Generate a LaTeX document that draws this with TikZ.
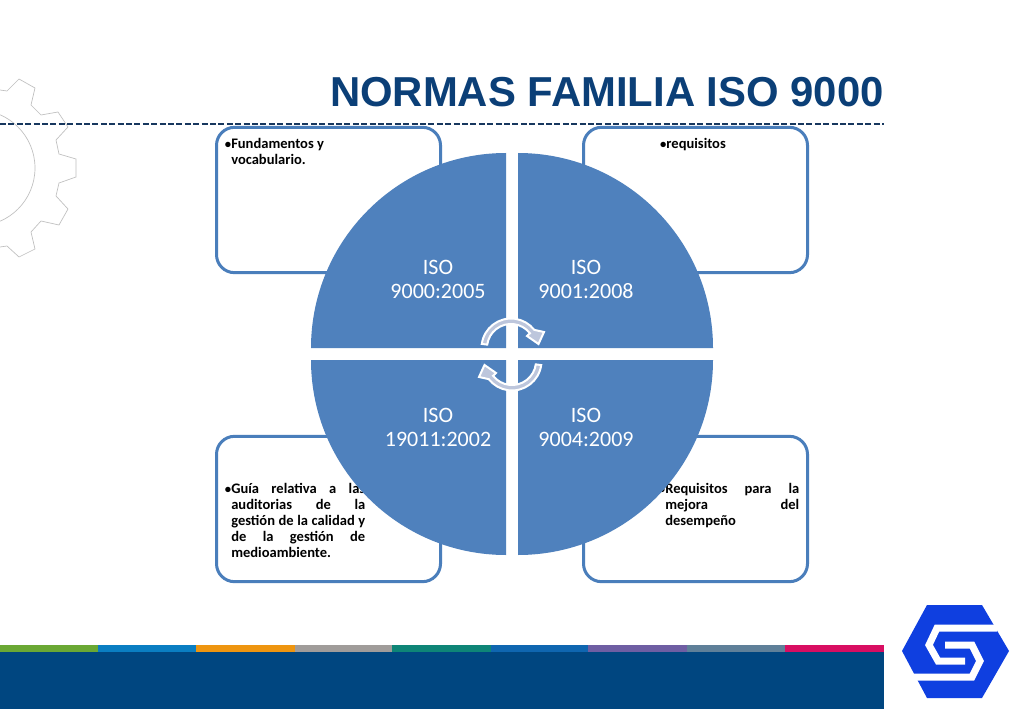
\documentclass[tikz,border=0pt]{standalone}
\usepackage{fontspec}
\setmainfont{Carlito}
\newfontfamily\titlefont{Liberation Sans}
\usepackage{tikz}
\definecolor{quadblue}{HTML}{4F81BD}
\definecolor{boxblue}{HTML}{4A7EBB}
\definecolor{navy}{HTML}{004680}
\definecolor{dashnavy}{HTML}{17375E}
\definecolor{titleblue}{HTML}{0B3F77}
\definecolor{logoblue}{HTML}{0F3FE0}
\definecolor{arrowgrey}{HTML}{BDC6DC}
\tikzset{
    box/.style={draw=boxblue,line width=2.25pt,rounded corners=13.5pt,fill=white,
        minimum width=168pt,minimum height=109pt,inner sep=0pt},
    boxtext/.style={text width=100.5pt,align=justify,font=\fontsize{10.9}{12}\selectfont\bfseries,
        inner sep=0pt,anchor=north west},
    quad/.style={fill=quadblue},
    quadtext/.style={text=white,align=center,font=\fontsize{16.5}{18}\selectfont},
    cyclearrow/.style={fill=arrowgrey,draw=white,line width=1.5pt,line join=miter},
    logocut/.style={draw=white,line width=5.25pt,line join=miter},
}
\newcommand{\bul}{\llap{{\fontsize{9.5}{8}\selectfont\textbullet}}}
\begin{document}
\begin{tikzpicture}[x=0.75pt,y=-0.75pt]
    \clip (0,0) rectangle (1024,709);
    \fill[white] (0,0) rectangle (1024,709);
    % gear
    \draw[black!25,line width=0.5pt] (0,90) -- (7,91) -- (19,79) -- (35,88) -- (31,105) -- (41,115)
        -- (58,112) -- (68,127) -- (56,140) -- (59,154) -- (76,159) -- (76,177) -- (59,183)
        -- (56,196) -- (68,209) -- (59,225) -- (41,221) -- (31,232) -- (35,249) -- (19,257)
        -- (7,246) -- (0,247);
    \draw[black!25,line width=0.5pt] (-23,168) circle (58);
    % title
    \node[anchor=east,inner sep=0pt,text=titleblue,font=\titlefont\fontsize{31.4}{36}\selectfont\bfseries]
        (title) at (884,92) {NORMAS FAMILIA ISO 9000};
    \draw[dashnavy,line width=1pt,dash pattern=on 4.5pt off 1.8pt] (0,124) -- (884,124);
    % boxes
    \node[box] (fund) at (328.5,200) {};
    \node[box] (req) at (695.5,200) {};
    \node[box] (guia) at (328.5,509) {};
    \node[box] (mej) at (695.5,509) {};
    \node[boxtext] (fundtext) at (231,138) {\bul Fundamentos y\\vocabulario.};
    \node[inner sep=0pt,font=\fontsize{10.9}{12}\selectfont\bfseries] (reqtext) at (693,145)
        {{\fontsize{9.5}{8}\selectfont\textbullet}requisitos};
    \node[boxtext] (guiatext) at (231,483) {\bul Guía relativa a las\linebreak auditorias de la\linebreak gestión de la calidad y\linebreak de la gestión de\linebreak medioambiente.};
    \node[boxtext] (mejtext) at (665,483) {\bul Requisitos para la\linebreak mejora del\linebreak desempeño};
    % circle
    \fill[quad] (506,348) -- (311,348) arc[start angle=180,end angle=270,radius=195] -- cycle;
    \fill[quad] (518,348) -- (518,153) arc[start angle=270,end angle=360,radius=195] -- cycle;
    \fill[quad] (506,360) -- (506,555) arc[start angle=90,end angle=180,radius=195] -- cycle;
    \fill[quad] (518,360) -- (713,360) arc[start angle=0,end angle=90,radius=195] -- cycle;
    \node[quadtext] (q1) at (438,279) {ISO\\9000:2005};
    \node[quadtext] (q2) at (586,279) {ISO\\9001:2008};
    \node[quadtext] (q3) at (438,427) {ISO\\19011:2002};
    \node[quadtext] (q4) at (586,427) {ISO\\9004:2009};
    % cycle arrows
    \foreach \ang in {0,180} {
        \draw[cyclearrow,rotate around={\ang:(511.5,354.5)}]
            (481.8,343.9) arc[start angle=188,end angle=322,radius=29.5] -- (544,332) -- (538.5,344)
            -- (527,336) -- (529.9,333.2) arc[start angle=322,end angle=188,radius=24] -- cycle;
    }
    % bar
    \fill[navy] (0,652) rectangle (884,709);
    \foreach \xa/\xb/\col in {0/98/6AA834,98/196/0A7EC2,196/295/EE9510,295/392/A09C9A,392/491/0E8577,
        491/588/0F66B0,588/687/6F5EA3,687/785/5F8099,785/884/D80E62} {
        \definecolor{barcol}{HTML}{\col}
        \fill[barcol] (\xa,645) rectangle (\xb,652);
    }
    % logo
    \fill[logoblue] (902,651) -- (927,605) -- (982,605) -- (1009,651) -- (982,698) -- (927,698) -- cycle;
    \draw[logocut] (997,628) -- (937,628) -- (929,645) -- (938,661) -- (965,661);
    \draw[logocut] (945,645) -- (972,645) -- (980,661) -- (972,677) -- (913,677);
\end{tikzpicture}
\end{document}
